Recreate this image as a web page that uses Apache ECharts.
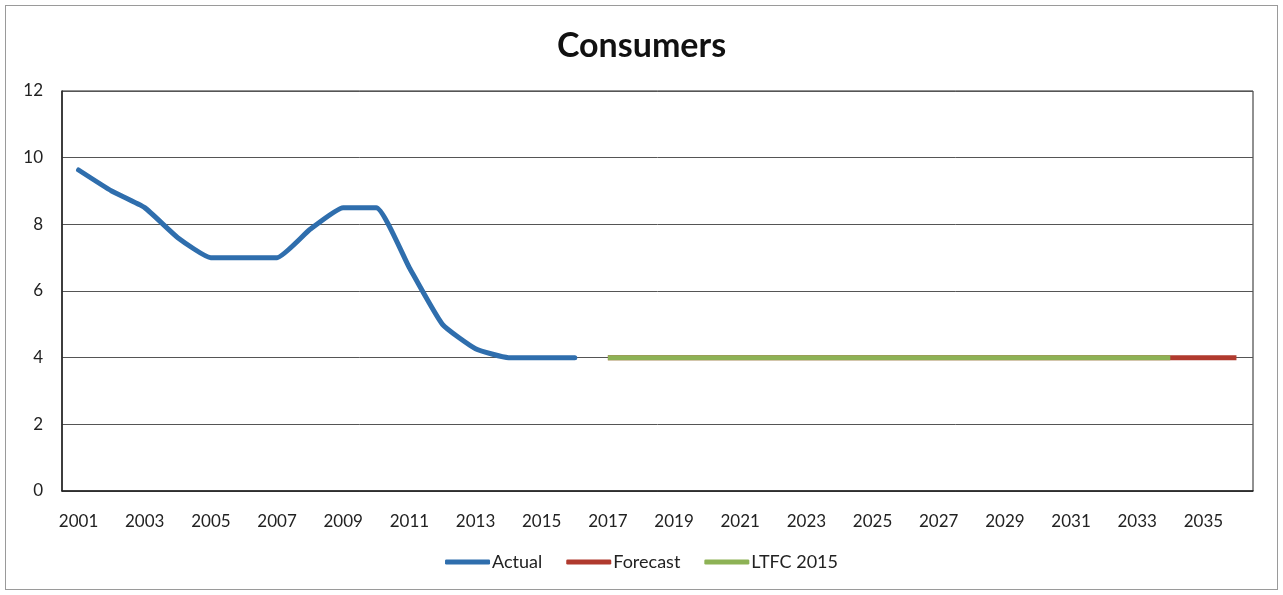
<!DOCTYPE html>
<html>
<head>
<meta charset="utf-8">
<script src="https://cdn.jsdelivr.net/npm/echarts@6/dist/echarts.min.js"></script>
<style>
  html, body { margin: 0; padding: 0; background: #fff; }
  #frame { position: absolute; left: 5px; top: 5px; width: 1271px; height: 583px; border: 1px solid #9a9a9a; }
  #chart { width: 1283px; height: 595px; }
</style>
</head>
<body>
<div id="frame"></div>
<div id="chart"></div>
<script>
// Years on the category axis
const years = [];
for (let y = 2001; y <= 2036; y++) years.push(String(y));

// Actual consumers, 2001-2016
const actual = [9.63, 9.0, 8.5, 7.6, 7.0, 7.0, 7.0, 7.85, 8.5, 8.5, 6.7, 5.0, 4.27, 4.0, 4.0, 4.0];
// Forecast, 2017-2036
const forecast = [4, 4, 4, 4, 4, 4, 4, 4, 4, 4, 4, 4, 4, 4, 4, 4, 4, 4, 4, 4];
// LTFC 2015, 2017-2034
const ltfc = [4, 4, 4, 4, 4, 4, 4, 4, 4, 4, 4, 4, 4, 4, 4, 4, 4, 4];

const yTicks = [0, 2, 4, 6, 8, 10, 12];

function place(values, startYear) {
  const out = years.map(() => null);
  const start = years.indexOf(String(startYear));
  values.forEach((v, i) => { out[start + i] = v; });
  return out;
}

const font = 'Lato, "Open Sans", sans-serif';
const chart = echarts.init(document.getElementById('chart'), null, { renderer: 'canvas' });

chart.setOption({
  animation: false,
  title: {
    text: 'Consumers',
    left: 'center',
    top: 24,
    textStyle: { fontFamily: font, fontSize: 34, fontWeight: 'bold', color: '#111' }
  },
  legend: {
    bottom: 19,
    left: 'center',
    icon: 'roundRect',
    itemWidth: 45,
    itemHeight: 5,
    itemGap: 24,
    textStyle: { fontFamily: font, fontSize: 18, color: '#222', padding: [0, 0, 0, -3] },
    data: ['Actual', 'Forecast', 'LTFC 2015']
  },
  grid: {
    left: 62, right: 30, top: 91, bottom: 104,
    show: true, borderColor: '#222', borderWidth: 1
  },
  xAxis: {
    type: 'category',
    data: years,
    boundaryGap: true,
    axisLine: { lineStyle: { color: '#222', width: 1.5 } },
    axisTick: { show: false },
    axisLabel: {
      interval: 1,
      margin: 22,
      fontFamily: font, fontSize: 17, color: '#222'
    }
  },
  yAxis: {
    type: 'value',
    min: 0, max: 12, interval: 2,
    axisLine: { show: true, lineStyle: { color: '#222', width: 1.5 } },
    axisTick: { show: false },
    axisLabel: {
      margin: 19,
      fontFamily: font, fontSize: 17, color: '#222',
      formatter: v => yTicks.includes(v) ? String(v) : ''
    },
    splitLine: { lineStyle: { color: '#555', width: 1 } }
  },
  series: [
    {
      name: 'Actual', type: 'line', data: place(actual, 2001),
      showSymbol: false, symbol: 'none', smooth: 0.15,
      lineStyle: { color: '#2f6ead', width: 5, cap: 'round', join: 'round' },
      itemStyle: { color: '#2f6ead' }
    },
    {
      name: 'Forecast', type: 'line', data: place(forecast, 2017),
      showSymbol: false, symbol: 'none',
      lineStyle: { color: '#b03a2e', width: 5 },
      itemStyle: { color: '#b03a2e' }
    },
    {
      name: 'LTFC 2015', type: 'line', data: place(ltfc, 2017),
      showSymbol: false, symbol: 'none',
      lineStyle: { color: '#8db255', width: 5 },
      itemStyle: { color: '#8db255' }
    }
  ]
});
</script>
</body>
</html>
